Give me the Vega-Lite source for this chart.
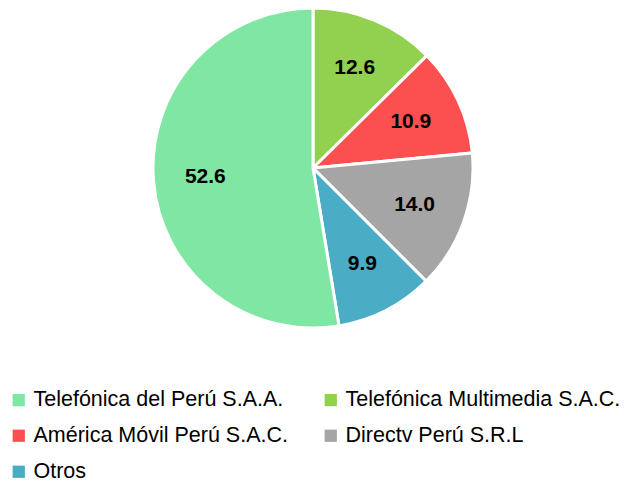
{
  "$schema": "https://vega.github.io/schema/vega-lite/v6.json",
  "width": 610,
  "height": 330,
  "padding": {"left": 8, "top": 2, "right": 2, "bottom": 2},
  "background": "white",
  "config": {"view": {"stroke": null}, "font": "Liberation Sans"},
  "data": {
    "values": [
      {"empresa": "Telefónica Multimedia S.A.C.", "valor": 12.6, "orden": 1},
      {"empresa": "América Móvil Perú S.A.C.", "valor": 10.9, "orden": 2},
      {"empresa": "Directv Perú S.R.L", "valor": 14.0, "orden": 3},
      {"empresa": "Otros", "valor": 9.9, "orden": 4},
      {"empresa": "Telefónica del Perú S.A.A.", "valor": 52.6, "orden": 5}
    ]
  },
  "encoding": {
    "theta": {"field": "valor", "type": "quantitative", "stack": true},
    "order": {"field": "orden", "type": "quantitative"},
    "color": {
      "field": "empresa",
      "type": "nominal",
      "scale": {
        "domain": ["Telefónica del Perú S.A.A.", "Telefónica Multimedia S.A.C.", "América Móvil Perú S.A.C.", "Directv Perú S.R.L", "Otros"],
        "range": ["#80E6A4", "#92D050", "#FC5050", "#A5A5A5", "#4BACC6"]
      },
      "legend": {
        "title": null,
        "orient": "bottom",
        "columns": 2,
        "symbolType": "square",
        "symbolSize": 150,
        "symbolStrokeWidth": 0,
        "labelFontSize": 21.5,
        "labelFont": "Liberation Sans",
        "labelColor": "#000000",
        "labelLimit": 320,
        "labelOffset": 4,
        "rowPadding": 13,
        "columnPadding": 32,
        "offset": 56
      }
    }
  },
  "layer": [
    {
      "mark": {"type": "arc", "outerRadius": 160, "stroke": "white", "strokeWidth": 3}
    },
    {
      "mark": {"type": "text", "radius": 108, "fontSize": 21, "fontWeight": "bold", "font": "Liberation Sans", "color": "#000000"},
      "encoding": {
        "text": {"field": "valor", "type": "quantitative", "format": ".1f"},
        "color": {"value": "#000000"}
      }
    }
  ]
}
